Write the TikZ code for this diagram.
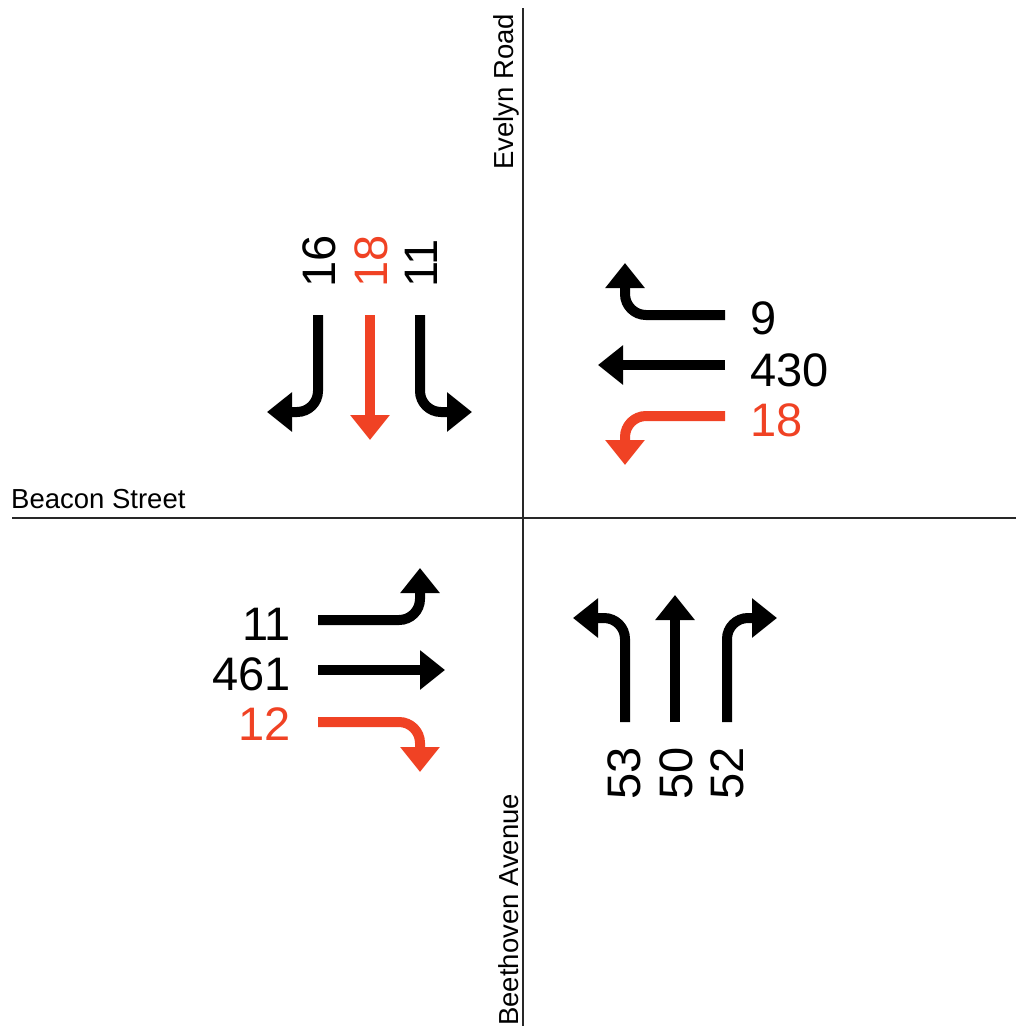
\documentclass[tikz,border=0pt]{standalone}
\usepackage{fontspec}
\setmainfont{Liberation Sans}
\usetikzlibrary{arrows.meta}
\definecolor{lanered}{RGB}{240,66,36}
\definecolor{roadgray}{RGB}{40,40,40}
\tikzset{
  lane/.style={line width=10pt, -{Triangle[width=38pt,length=25pt]}, rounded corners=21pt},
  blk/.style={lane, black},
  rd/.style={lane, lanered},
  road/.style={line width=1.4pt, roadgray},
  num/.style={inner sep=0pt, font=\fontsize{47}{47}\selectfont},
  street/.style={inner sep=0pt, font=\fontsize{27.5}{27.5}\selectfont},
}
\begin{document}
\begin{tikzpicture}[x=1pt,y=-1pt]
\useasboundingbox (0,0) rectangle (1016,1026);
% roads
\draw[road] (523,8) -- (523,1026);
\draw[road] (12,518) -- (1016,518);
\node[street, anchor=base west] (beacon) at (11,508) {Beacon Street};
\node[street, anchor=base west, rotate=90] (evelyn) at (513,170) {Evelyn Road};
\node[street, anchor=base west, rotate=90] (beethoven) at (518,1026) {Beethoven Avenue};
% NW: southbound
\draw[blk] (318,315) -- (318,412) -- (267,412);
\draw[rd]  (370,315) -- (370,440);
\draw[blk] (420,315) -- (420,412) -- (472,412);
\node[num, anchor=base west, rotate=90] (s16) at (335,288) {16};
\node[num, anchor=base west, rotate=90, text=lanered] (s18) at (387,288) {18};
\node[num, anchor=base west, rotate=90] (s11) at (437,288) {11};
% NE: westbound
\draw[blk] (725,315) -- (625,315) -- (625,263);
\draw[blk] (725,365) -- (598,365);
\draw[rd]  (725,416) -- (625,416) -- (625,465);
\node[num, anchor=base west] (w9) at (750,334) {9};
\node[num, anchor=base west] (w430) at (750,386) {430};
\node[num, anchor=base west, text=lanered] (w18) at (750,436) {18};
% SW: eastbound
\draw[blk] (318,620) -- (420,620) -- (420,568);
\draw[blk] (318,670) -- (445,670);
\draw[rd]  (318,722) -- (420,722) -- (420,772);
\node[num, anchor=base east] (e11) at (291,640) {11};
\node[num, anchor=base east] (e461) at (291,690) {461};
\node[num, anchor=base east, text=lanered] (e12) at (291,740) {12};
% SE: northbound
\draw[blk] (625,722) -- (625,618) -- (573,618);
\draw[blk] (675,722) -- (675,595);
\draw[blk] (727,722) -- (727,618) -- (777,618);
\node[num, anchor=base west, rotate=90] (n53) at (640,800) {53};
\node[num, anchor=base west, rotate=90] (n50) at (692,800) {50};
\node[num, anchor=base west, rotate=90] (n52) at (743,800) {52};
\end{tikzpicture}
\end{document}
